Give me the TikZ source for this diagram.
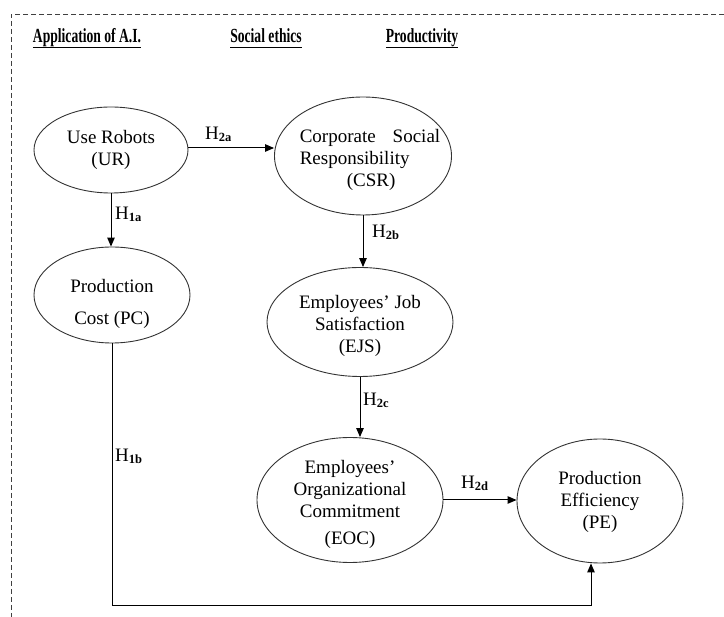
\documentclass[tikz,border=0pt]{standalone}
\usepackage{fontspec}
\setmainfont{Liberation Serif}
\newfontfamily\headfont[FakeStretch=0.68]{Liberation Serif}
\usetikzlibrary{arrows.meta,shapes.geometric}
\newsavebox{\headbox}
\newcommand{\ulhead}[1]{\sbox{\headbox}{#1}\rlap{\usebox{\headbox}}\rule[-4.8pt]{\wd\headbox}{1pt}}
\newcommand{\hyp}[1]{H\raisebox{-1.5pt}{\fontsize{12.5}{12.5}\selectfont\bfseries #1}}

\begin{document}
\begin{tikzpicture}[
  x=1pt, y=-1pt,
  ellip/.style={draw=black!80, line width=0.9pt, ellipse, inner sep=0pt},
  txt/.style={align=center, font=\fontsize{19}{22}\selectfont, inner sep=0pt},
  head/.style={anchor=base, font=\headfont\bfseries\fontsize{20}{22}\selectfont, inner sep=0pt},
  hlab/.style={anchor=base west, font=\fontsize{19}{22}\selectfont, inner sep=0pt},
  dashline/.style={draw=black!75, line width=0.8pt, dash pattern=on 5pt off 3pt},
  arrow/.style={-{Triangle[length=9pt,width=7.5pt]}, line width=1pt}
]
\useasboundingbox (0,0) rectangle (724,617);
\draw[dashline] (724,14) -- (11,14) -- (11,617);

% column headings
\node[head] (head-ai) at (87,43) {\ulhead{Application of A.I.}};
\node[head] (head-ethics) at (266,43) {\ulhead{Social ethics}};
\node[head] (head-prod) at (422,43) {\ulhead{Productivity}};

% constructs
\node[ellip, minimum width=154pt, minimum height=86pt] (ur) at (111,150) {};
\node[txt] (ur-text) at (ur) {Use Robots\\(UR)};
\node[ellip, minimum width=156pt, minimum height=96pt] (pc) at (112,295) {};
\node[txt] (pc-text) at ([yshift=-9pt]pc.center) {Production\\[10pt]Cost (PC)};
\node[ellip, minimum width=177pt, minimum height=118pt] (csr) at (363,156) {};
\node[txt, align=left] (csr-text) at ([xshift=7pt,yshift=-4pt]csr.center)
  {Corporate\hspace{17pt}Social\\Responsibility\\\hspace*{47pt}(CSR)};
\node[ellip, minimum width=186pt, minimum height=109pt] (ejs) at (360,322) {};
\node[txt] (ejs-text) at ([yshift=-4pt]ejs.center) {Employees' Job\\Satisfaction\\(EJS)};
\node[ellip, minimum width=186pt, minimum height=125pt] (eoc) at (350,500) {};
\node[txt] (eoc-text) at ([yshift=-4pt]eoc.center) {Employees'\\Organizational\\Commitment\\[5pt](EOC)};
\node[ellip, minimum width=166pt, minimum height=124pt] (pe) at (600,501) {};
\node[txt] (pe-text) at ([yshift=-1pt]pe.center) {Production\\Efficiency\\(PE)};

% hypotheses
\draw[arrow] ([yshift=2pt]ur.east) -- ([yshift=2pt]ur.east -| csr.west);
\draw[arrow] (ur.south) -- (ur.south |- pc.north);
\draw[arrow] (csr.south) -- (csr.south |- ejs.north);
\draw[arrow] (ejs.south) -- (ejs.south |- eoc.north);
\draw[arrow] (eoc.east) -- (eoc.east -| pe.west);
\path (pc.south) ++(0,262) coordinate (h1b-turn);
\draw[arrow] (pc.south) |- (h1b-turn) -| ([xshift=-9pt]pe.south);

\node[hlab] (h2a) at (205,140) {\hyp{2a}};
\node[hlab] (h1a) at (115,220) {\hyp{1a}};
\node[hlab] (h2b) at (372,238) {\hyp{2b}};
\node[hlab] (h2c) at (363,406) {\hyp{2c}};
\node[hlab] (h2d) at (461,489) {\hyp{2d}};
\node[hlab] (h1b) at (115,462) {\hyp{1b}};
\end{tikzpicture}
\end{document}
